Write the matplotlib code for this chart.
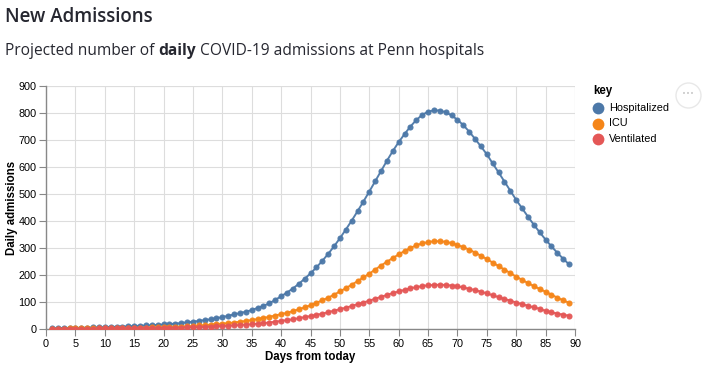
import numpy as np
import matplotlib
matplotlib.use("Agg")
import matplotlib.pyplot as plt

# Data (daily admissions, days 1..89)
days = list(range(1, 90))

hospitalized = [
    3, 3, 4, 4, 4, 5, 5, 6, 6, 7,
    8, 8, 9, 10, 11, 12, 13, 14, 15, 17,
    18, 20, 22, 25, 27, 30, 33, 36, 40, 44,
    49, 54, 59, 64, 70, 78, 86, 95, 108, 121,
    135, 150, 167, 186, 206, 228, 252, 278, 306, 336,
    368, 401, 436, 472, 509, 547, 585, 623, 659, 692,
    722, 750, 774, 793, 805, 810, 809, 803, 791, 775,
    755, 731, 704, 676, 647, 613, 580, 546, 512, 478,
    447, 416, 386, 358, 331, 306, 282, 260, 239,
]

icu = [
    1, 1, 1, 2, 2, 2, 2, 2, 3, 3,
    3, 3, 4, 4, 4, 5, 5, 6, 6, 7,
    8, 8, 9, 10, 11, 13, 14, 16, 18, 20,
    22, 24, 27, 30, 33, 37, 41, 45, 50, 55,
    60, 66, 73, 80, 88, 97, 106, 116, 127, 139,
    151, 164, 177, 191, 205, 220, 235, 249, 263, 276,
    289, 300, 310, 317, 322, 325, 325, 323, 318, 311,
    303, 294, 283, 271, 259, 246, 233, 220, 207, 194,
    182, 170, 159, 148, 138, 127, 116, 106, 97,
]

ventilated = [
    1, 1, 1, 1, 1, 1, 1, 1, 2, 2,
    2, 2, 2, 2, 3, 3, 3, 3, 4, 4,
    4, 5, 5, 6, 6, 7, 8, 9, 10, 11,
    12, 13, 15, 16, 18, 20, 22, 24, 27, 30,
    33, 36, 40, 44, 48, 52, 57, 62, 68, 73,
    79, 85, 92, 98, 105, 112, 119, 126, 133, 139,
    145, 151, 155, 159, 162, 163, 164, 163, 161, 158,
    154, 149, 144, 138, 132, 125, 118, 111, 105, 98,
    92, 86, 80, 75, 67, 62, 57, 53, 49,
]

series = [
    ("Hospitalized", hospitalized, "#4c78a8"),
    ("ICU", icu, "#f58518"),
    ("Ventilated", ventilated, "#e45756"),
]

W, H = 707, 367
fig = plt.figure(figsize=(W / 100, H / 100), dpi=100)
fig.patch.set_facecolor("white")

# plot area in pixels: x 46..575, y 86..329
ax = fig.add_axes([46 / W, 1 - 329 / H, 529 / W, 243 / H])

for name, vals, col in series:
    ax.plot(days, vals, color=col, lw=1.4, marker="o", ms=4.4,
            mec="none", alpha=0.95, label=name, zorder=3)

ax.set_xlim(0, 90)
ax.set_ylim(0, 900)
ax.set_xticks(range(0, 91, 5))
ax.set_yticks(range(0, 901, 100))
ax.grid(True, color="#dddddd", lw=0.8)
ax.set_axisbelow(True)
for s in ["top", "right"]:
    ax.spines[s].set_visible(False)
for s in ["left", "bottom"]:
    ax.spines[s].set_color("#888888")
    ax.spines[s].set_linewidth(1.0)
ax.tick_params(colors="#888888", length=5, width=0.8, labelcolor="black",
               labelsize=7.8, pad=2)
for lbl in ax.get_xticklabels() + ax.get_yticklabels():
    lbl.set_family("Liberation Sans")
ax.axhline(900, color="#dddddd", lw=0.8, zorder=0)
ax.axvline(90, color="#dddddd", lw=0.8, zorder=0)

ax.set_xlabel("Days from today", fontsize=8.3, fontweight="bold",
              family="Liberation Sans")
ax.set_ylabel("Daily admissions", fontsize=8.3, fontweight="bold",
              family="Liberation Sans")
ax.xaxis.set_label_coords(0.5, -0.09)
ax.yaxis.set_label_coords(-0.052, 0.5)

# legend drawn by hand
fig.text(593 / W, 1 - 91 / H, "key", fontsize=8.3, fontweight="bold",
         family="Liberation Sans", va="center", ha="left")
for i, (name, vals, col) in enumerate(series):
    yy = 1 - (108 + i * 15.5) / H
    fig.lines.append(plt.Line2D([598 / W], [yy], marker="o", ms=8.5, color=col,
                                mec="none", transform=fig.transFigure))
    fig.text(609 / W, yy, name, fontsize=7.8, family="Liberation Sans",
             va="center", ha="left")

# the little actions button
fig.lines.append(plt.Line2D([688 / W], [1 - 95 / H], marker="o", ms=18,
                            mfc="white", mec="#e8e8e8", mew=1.0,
                            transform=fig.transFigure))
fig.text(688 / W, 1 - 94 / H, "•••", fontsize=5, color="#c8c8c8",
         ha="center", va="center")

# title and subtitle
title_color = "#262730"
fig.text(5 / W, 1 - 17 / H, "New Admissions", fontsize=13.5, fontweight="semibold",
         family="Open Sans", color=title_color, va="center", ha="left")

fig.canvas.draw()
r = fig.canvas.get_renderer()
x = 5
y = 1 - 51 / H
for part, fw in [("Projected number of ", "normal"), ("daily", "bold"),
                 (" COVID-19 admissions at Penn hospitals", "normal")]:
    t = fig.text(x / W, y, part, fontsize=11.2, fontweight=fw, family="Open Sans",
                 color=title_color, va="center", ha="left")
    bb = t.get_window_extent(renderer=r)
    x += bb.width

fig.savefig("out.png", dpi=100)
